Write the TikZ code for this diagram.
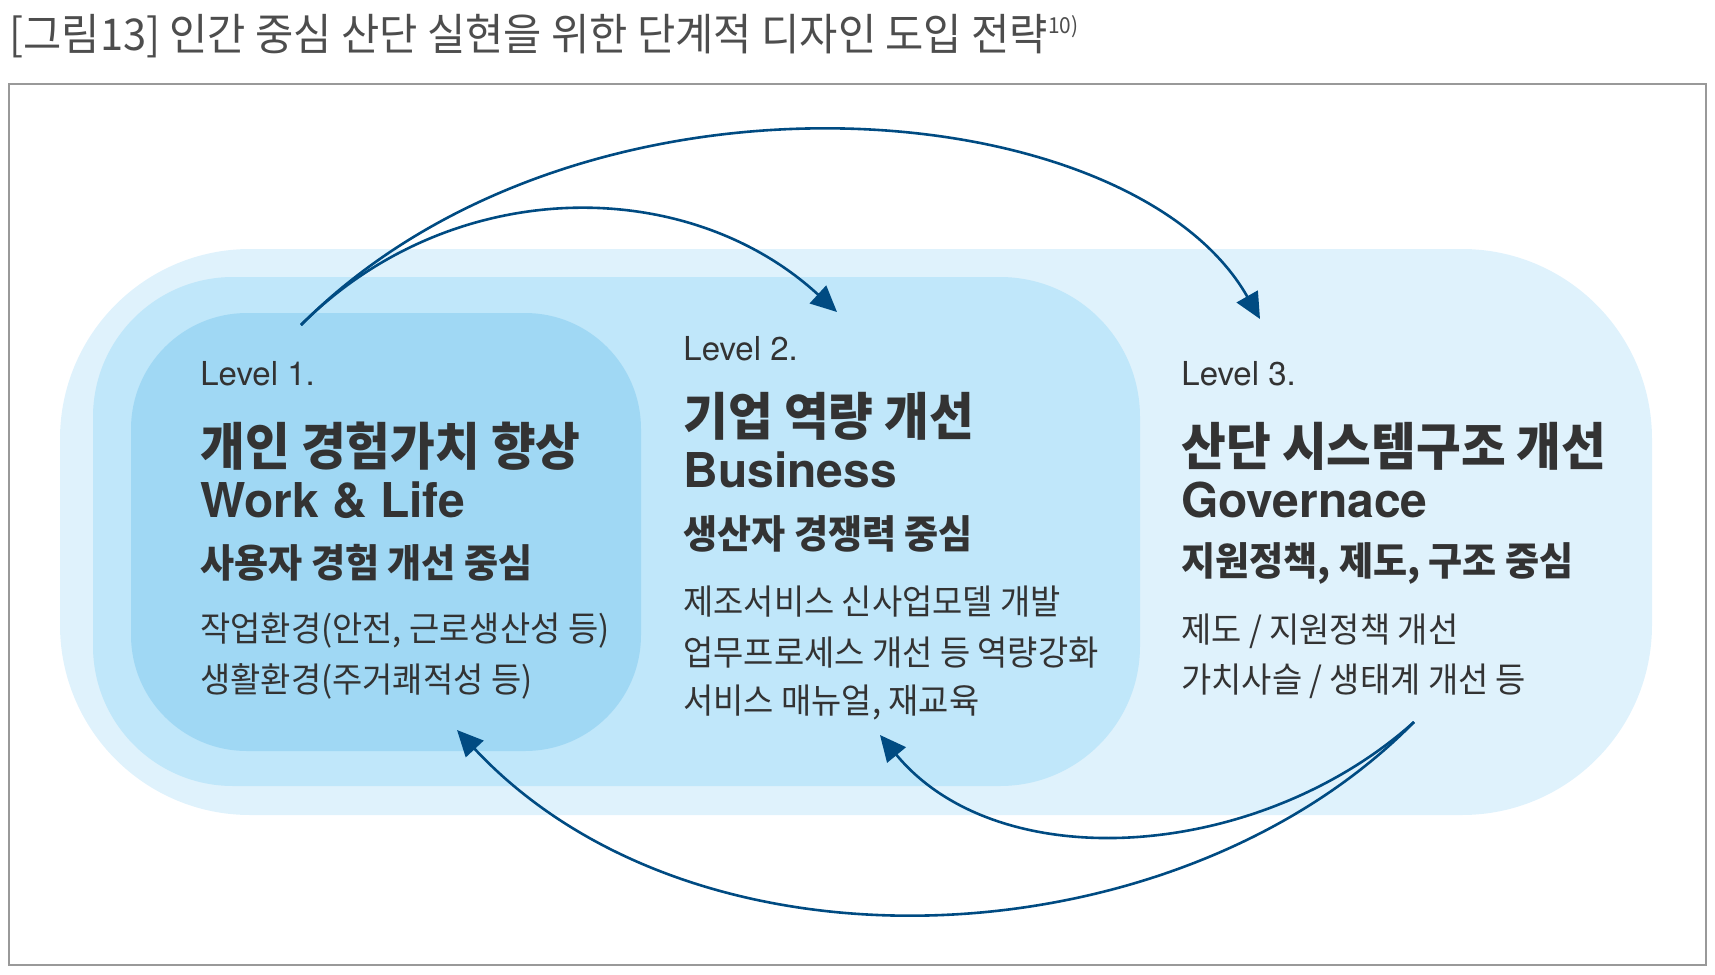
\documentclass[tikz,border=0pt]{standalone}
\usepackage{fontspec}
\setmainfont{Noto Sans CJK KR}[FakeStretch=0.95]
\newfontfamily\heros{TeX Gyre Heros}
\usetikzlibrary{arrows.meta}
\definecolor{bandout}{HTML}{DFF2FC}
\definecolor{bandmid}{HTML}{C0E7FA}
\definecolor{bandin}{HTML}{A0D8F4}
\definecolor{flowblue}{HTML}{004B82}
\definecolor{txt}{HTML}{333333}
\definecolor{ttl}{HTML}{4D4D4D}
\definecolor{framegray}{HTML}{999999}

\begin{document}
\begin{tikzpicture}[x=0.5pt,y=-0.5pt,
  lvltext/.style={anchor=west, inner sep=0pt, text=txt, font=\heros\fontsize{16.5}{18}\selectfont},
  headtext/.style={anchor=west, inner sep=0pt, text=txt, font=\bfseries\fontsize{25.6}{28}\selectfont},
  engtext/.style={anchor=west, inner sep=0pt, text=txt, font=\heros\bfseries\fontsize{24}{28}\selectfont},
  focustext/.style={anchor=west, inner sep=0pt, text=txt, font=\bfseries\fontsize{19.5}{22}\selectfont},
  bodytext/.style={anchor=west, inner sep=0pt, text=txt, font=\fontsize{17.3}{19}\selectfont},
  flowarrow/.style={draw=flowblue, line width=1.3pt, -{Triangle[length=13pt, width=12pt]}}]
\useasboundingbox (0,0) rectangle (1715,975);
\node[anchor=west, inner sep=0pt, text=ttl, font=\fontsize{21.9}{24}\selectfont] (title) at (9,36)
  {[그림13] 인간 중심 산단 실현을 위한 단계적 디자인 도입 전략\raisebox{0.7ex}{\fontsize{11}{12}\selectfont 10)}};
\draw[framegray, line width=1pt] (9,84) rectangle (1706,965);
\fill[bandout, rounded corners=95pt] (60,249) rectangle (1652,815);
\fill[bandmid, rounded corners=70pt] (93,277) rectangle (1140,786);
\fill[bandin, rounded corners=58pt] (131,313) rectangle (641,751);

\node[lvltext] (lvlA) at (200,374) {Level 1.};
\node[headtext] (headA) at (200,446) {개인 경험가치 향상};
\node[engtext] (engA) at (200,500) {Work \& Life};
\node[focustext] (focusA) at (200,563) {사용자 경험 개선 중심};
\node[bodytext] (bodyA1) at (200,631) {작업환경(안전, 근로생산성 등)};
\node[bodytext] (bodyA2) at (200,681) {생활환경(주거쾌적성 등)};

\node[lvltext] (lvlB) at (683,349) {Level 2.};
\node[headtext] (headB) at (683,416) {기업 역량 개선};
\node[engtext] (engB) at (683,470) {Business};
\node[focustext] (focusB) at (683,534) {생산자 경쟁력 중심};
\node[bodytext] (bodyB1) at (683,602) {제조서비스 신사업모델 개발};
\node[bodytext] (bodyB2) at (683,653) {업무프로세스 개선 등 역량강화};
\node[bodytext] (bodyB3) at (683,702) {서비스 매뉴얼, 재교육};

\node[lvltext] (lvlC) at (1181,374) {Level 3.};
\node[headtext] (headC) at (1181,446) {산단 시스템구조 개선};
\node[engtext] (engC) at (1181,500) {Governace};
\node[focustext] (focusC) at (1181,563) {지원정책, 제도, 구조 중심};
\node[bodytext] (bodyC1) at (1181,631) {제도 / 지원정책 개선};
\node[bodytext] (bodyC2) at (1181,681) {가치사슬 / 생태계 개선 등};

\coordinate (outA) at (301,325);
\coordinate (inB) at (837,312);
\coordinate (inC) at (1260,319);
\coordinate (outC) at (1414,722);
\coordinate (backB) at (880,735);
\coordinate (backA) at (457,730);
\draw[flowarrow] (outA) .. controls (452,174) and (687,174) .. (inB);
\draw[flowarrow] (outA) .. controls (580,45) and (1130,90) .. (inC);
\draw[flowarrow] (outC) .. controls (1260,860) and (1000,880) .. (backB);
\draw[flowarrow] (outC) .. controls (1180,960) and (700,990) .. (backA);
\end{tikzpicture}
\end{document}
